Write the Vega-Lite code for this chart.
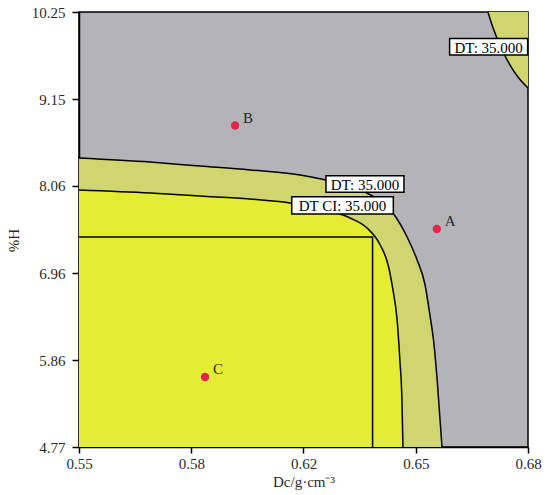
{
  "$schema": "https://vega.github.io/schema/vega-lite/v6.json",
  "autosize": "none",
  "width": 449,
  "height": 435,
  "padding": {"left": 79, "top": 12, "right": 25, "bottom": 48},
  "background": "white",
  "config": {
    "view": {"fill": "#b4b4b8", "stroke": "black", "strokeWidth": 1.5},
    "font": "Liberation Serif",
    "axis": {
      "grid": false,
      "domainColor": "black",
      "domainWidth": 1.5,
      "tickColor": "black",
      "tickWidth": 1.5,
      "labelFont": "Liberation Serif",
      "labelFontSize": 15,
      "labelColor": "#2a2a2a",
      "titleFont": "Liberation Serif",
      "titleFontSize": 15,
      "titleFontWeight": "normal",
      "titleColor": "#2a2a2a",
      "labelFlush": false,
      "labelOverlap": false
    }
  },
  "datasets": {
    "outer": [
      {"x": 0.55, "y": 8.411},
      {"x": 0.5706, "y": 8.360},
      {"x": 0.5850, "y": 8.310},
      {"x": 0.5995, "y": 8.260},
      {"x": 0.6140, "y": 8.197},
      {"x": 0.6227, "y": 8.121},
      {"x": 0.6328, "y": 7.982},
      {"x": 0.6409, "y": 7.718},
      {"x": 0.6450, "y": 7.416},
      {"x": 0.6479, "y": 7.126},
      {"x": 0.6502, "y": 6.811},
      {"x": 0.6516, "y": 6.433},
      {"x": 0.6528, "y": 6.055},
      {"x": 0.6537, "y": 5.614},
      {"x": 0.6551, "y": 4.77}
    ],
    "inner": [
      {"x": 0.55, "y": 8.008},
      {"x": 0.5706, "y": 7.970},
      {"x": 0.5850, "y": 7.932},
      {"x": 0.5995, "y": 7.894},
      {"x": 0.6111, "y": 7.844},
      {"x": 0.6227, "y": 7.743},
      {"x": 0.6285, "y": 7.655},
      {"x": 0.6334, "y": 7.529},
      {"x": 0.6372, "y": 7.315},
      {"x": 0.6395, "y": 7.063},
      {"x": 0.6409, "y": 6.748},
      {"x": 0.6421, "y": 6.370},
      {"x": 0.6429, "y": 5.866},
      {"x": 0.6435, "y": 5.362},
      {"x": 0.6438, "y": 4.77}
    ],
    "corner": [
      {"x": 0.6684, "y": 10.25},
      {"x": 0.6696, "y": 10.086},
      {"x": 0.6710, "y": 9.923},
      {"x": 0.6728, "y": 9.746},
      {"x": 0.6748, "y": 9.582},
      {"x": 0.6771, "y": 9.431},
      {"x": 0.68, "y": 9.293}
    ],
    "rect": [
      {"i": 1, "x": 0.55, "y": 7.4155},
      {"i": 2, "x": 0.635, "y": 7.4155},
      {"i": 3, "x": 0.635, "y": 4.77}
    ],
    "pts": [
      {"name": "A", "x": 0.6536, "y": 7.516},
      {"name": "B", "x": 0.5952, "y": 8.820},
      {"name": "C", "x": 0.5865, "y": 5.652}
    ],
    "labels": [
      {"kind": "DT", "text": "DT: 35.000", "x": 0.6328, "y": 8.083},
      {"kind": "CI", "text": "DT CI: 35.000", "x": 0.6263, "y": 7.815},
      {"kind": "DT", "text": "DT: 35.000", "x": 0.6686, "y": 9.812}
    ]
  },
  "encoding": {
    "x": {
      "field": "x", "type": "quantitative",
      "scale": {"domain": [0.55, 0.68], "nice": false, "zero": false},
      "axis": {
        "values": [0.55, 0.5825, 0.615, 0.6475, 0.68],
        "labelExpr": "datum.value < 0.56 ? '0.55' : datum.value < 0.6 ? '0.58' : datum.value < 0.63 ? '0.62' : datum.value < 0.66 ? '0.65' : '0.68'",
        "tickSize": 6,
        "labelPadding": 3,
        "title": "Dc/g·cm⁻³",
        "titlePadding": 3
      }
    },
    "y": {
      "field": "y", "type": "quantitative",
      "scale": {"domain": [4.77, 10.25], "nice": false, "zero": false},
      "axis": {
        "values": [4.77, 5.86, 6.96, 8.06, 9.15, 10.25],
        "format": ".2f",
        "tickSize": 7,
        "labelPadding": 7,
        "title": "%H",
        "titlePadding": 10,
        "titleY": 228
      }
    }
  },
  "layer": [
    {
      "data": {"name": "outer"},
      "mark": {"type": "area", "orient": "vertical", "interpolate": "monotone", "color": "#d0d56f", "clip": true},
      "encoding": {"y2": {"datum": 4.77}}
    },
    {
      "data": {"name": "inner"},
      "mark": {"type": "area", "orient": "vertical", "interpolate": "monotone", "color": "#e4ec33", "clip": true},
      "encoding": {"y2": {"datum": 4.77}}
    },
    {
      "data": {"name": "corner"},
      "mark": {"type": "area", "orient": "vertical", "interpolate": "monotone", "color": "#d0d56f", "clip": true},
      "encoding": {"y2": {"datum": 10.25}}
    },
    {
      "data": {"name": "outer"},
      "mark": {"type": "line", "interpolate": "monotone", "color": "black", "strokeWidth": 1.5, "clip": true},
      "encoding": {}
    },
    {
      "data": {"name": "inner"},
      "mark": {"type": "line", "interpolate": "monotone", "color": "black", "strokeWidth": 1.5, "clip": true},
      "encoding": {}
    },
    {
      "data": {"name": "corner"},
      "mark": {"type": "line", "interpolate": "monotone", "color": "black", "strokeWidth": 1.5, "clip": true},
      "encoding": {}
    },
    {
      "data": {"name": "rect"},
      "mark": {"type": "line", "color": "black", "strokeWidth": 1.5, "clip": true},
      "encoding": {"order": {"field": "i", "type": "quantitative"}}
    },
    {
      "data": {"name": "pts"},
      "mark": {"type": "circle", "color": "#e0264b", "opacity": 1, "size": 70}
    },
    {
      "data": {"name": "pts"},
      "mark": {"type": "text", "align": "left", "baseline": "middle", "dx": 8, "dy": -8, "fontSize": 15, "font": "Liberation Serif", "color": "#2a2a2a"},
      "encoding": {"text": {"field": "name"}}
    },
    {
      "data": {"name": "labels"},
      "transform": [{"filter": "datum.kind == 'DT'"}],
      "mark": {"type": "point", "shape": "M-0.78,-0.165H0.78V0.165H-0.78Z", "size": 10000, "filled": true, "fill": "white", "stroke": "black", "strokeWidth": 1.5, "opacity": 1}
    },
    {
      "data": {"name": "labels"},
      "transform": [{"filter": "datum.kind == 'CI'"}],
      "mark": {"type": "point", "shape": "M-1.016,-0.172H1.016V0.172H-1.016Z", "size": 10000, "filled": true, "fill": "white", "stroke": "black", "strokeWidth": 1.5, "opacity": 1}
    },
    {
      "data": {"name": "labels"},
      "mark": {"type": "text", "align": "center", "baseline": "middle", "dy": 1, "fontSize": 15, "font": "Liberation Serif", "color": "black"},
      "encoding": {"text": {"field": "text"}}
    }
  ]
}
